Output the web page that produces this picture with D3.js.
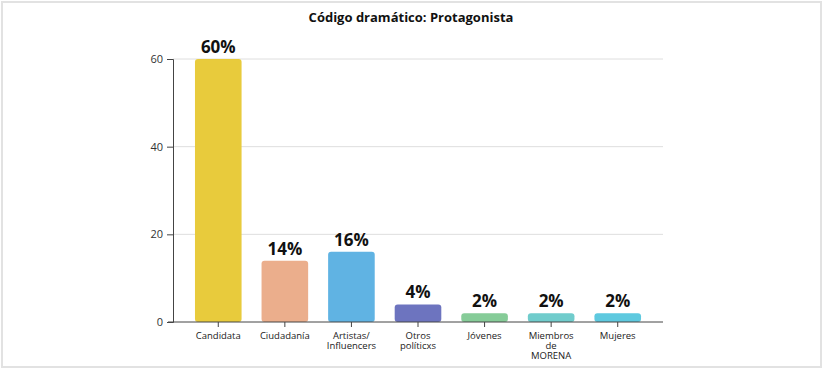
<!DOCTYPE html>
<html><head><meta charset="utf-8">
<script src="https://cdn.jsdelivr.net/npm/d3@7"></script>
<style>body{margin:0;background:#fff;}svg{display:block;font-family:"Open Sans",sans-serif;}</style>
</head><body><svg id="c" width="823" height="370"></svg>
<script>
const categories = [["Candidata"],["Ciudadanía"],["Artistas/","Influencers"],["Otros","políticxs"],["Jóvenes"],["Miembros","de","MORENA"],["Mujeres"]];
const values = [60, 14, 16, 4, 2, 2, 2];
const labels = ["60%","14%","16%","4%","2%","2%","2%"];
const colors = ["#E8CB3C","#EBAE8C","#60B3E3","#6D74BF","#86CC98","#70CCCC","#5EC9DF"];
const yTicks = [0, 20, 40, 60];
const title = "Código dramático: Protagonista";

const svg = d3.select("#c");
svg.append("rect").attr("x",2).attr("y",2).attr("width",819).attr("height",365)
  .attr("fill","#fff").attr("stroke","#e2e2e2").attr("stroke-width",2);

const L = 173, R = 663, T = 59, B = 322;
const keys = categories.map(c => c.join(" "));
const x = d3.scaleBand().domain(keys).range([L, R]).paddingInner(0.3).paddingOuter(0.33);
const y = d3.scaleLinear().domain([0, 60]).range([B, T]);

svg.append("text").attr("x", 411).attr("y", 22).attr("text-anchor","middle")
  .attr("font-size", 13).attr("font-weight", 700).attr("fill","#111").text(title);

// gridlines
svg.append("g").selectAll("line").data(yTicks.filter(d=>d>0)).join("line")
  .attr("x1", L).attr("x2", R).attr("y1", d=>y(d)).attr("y2", d=>y(d))
  .attr("stroke","#dedede").attr("stroke-width",1);

// bars
svg.append("g").selectAll("rect").data(values).join("rect")
  .attr("x", (d,i)=>x(keys[i])).attr("width", x.bandwidth())
  .attr("y", d=>y(d)).attr("height", d=>B - y(d))
  .attr("rx", 3).attr("fill", (d,i)=>colors[i]);

// value labels
svg.append("g").selectAll("text").data(values).join("text")
  .attr("x", (d,i)=>x(keys[i]) + x.bandwidth()/2).attr("y", d=>y(d) - 6)
  .attr("text-anchor","middle").attr("font-size", 17).attr("font-weight", 700).attr("fill","#111")
  .text((d,i)=>labels[i]);

// y axis
const ya = svg.append("g").attr("transform",`translate(${L},0)`)
  .call(d3.axisLeft(y).tickValues(yTicks).tickSize(6).tickPadding(4));
ya.selectAll("path,line").attr("stroke","#444");
ya.selectAll("text").attr("font-size", 11).attr("fill","#333").attr("font-family","Open Sans, sans-serif");

// x axis
const xa = svg.append("g").attr("transform",`translate(0,${B})`)
  .call(d3.axisBottom(x).tickSizeInner(5).tickSizeOuter(0).tickFormat(""));
xa.selectAll("path,line").attr("stroke","#444");
xa.select("path.domain").attr("d", `M${L-5},0H${R}`);

const xl = svg.append("g");
categories.forEach((lines, i) => {
  const t = xl.append("text").attr("x", x(keys[i]) + x.bandwidth()/2).attr("y", B + 17)
    .attr("text-anchor","middle").attr("font-size", 9.5).attr("fill","#222");
  lines.forEach((s, j) => t.append("tspan").attr("x", x(keys[i]) + x.bandwidth()/2).attr("dy", j===0?0:10).text(s));
});
</script></body></html>
